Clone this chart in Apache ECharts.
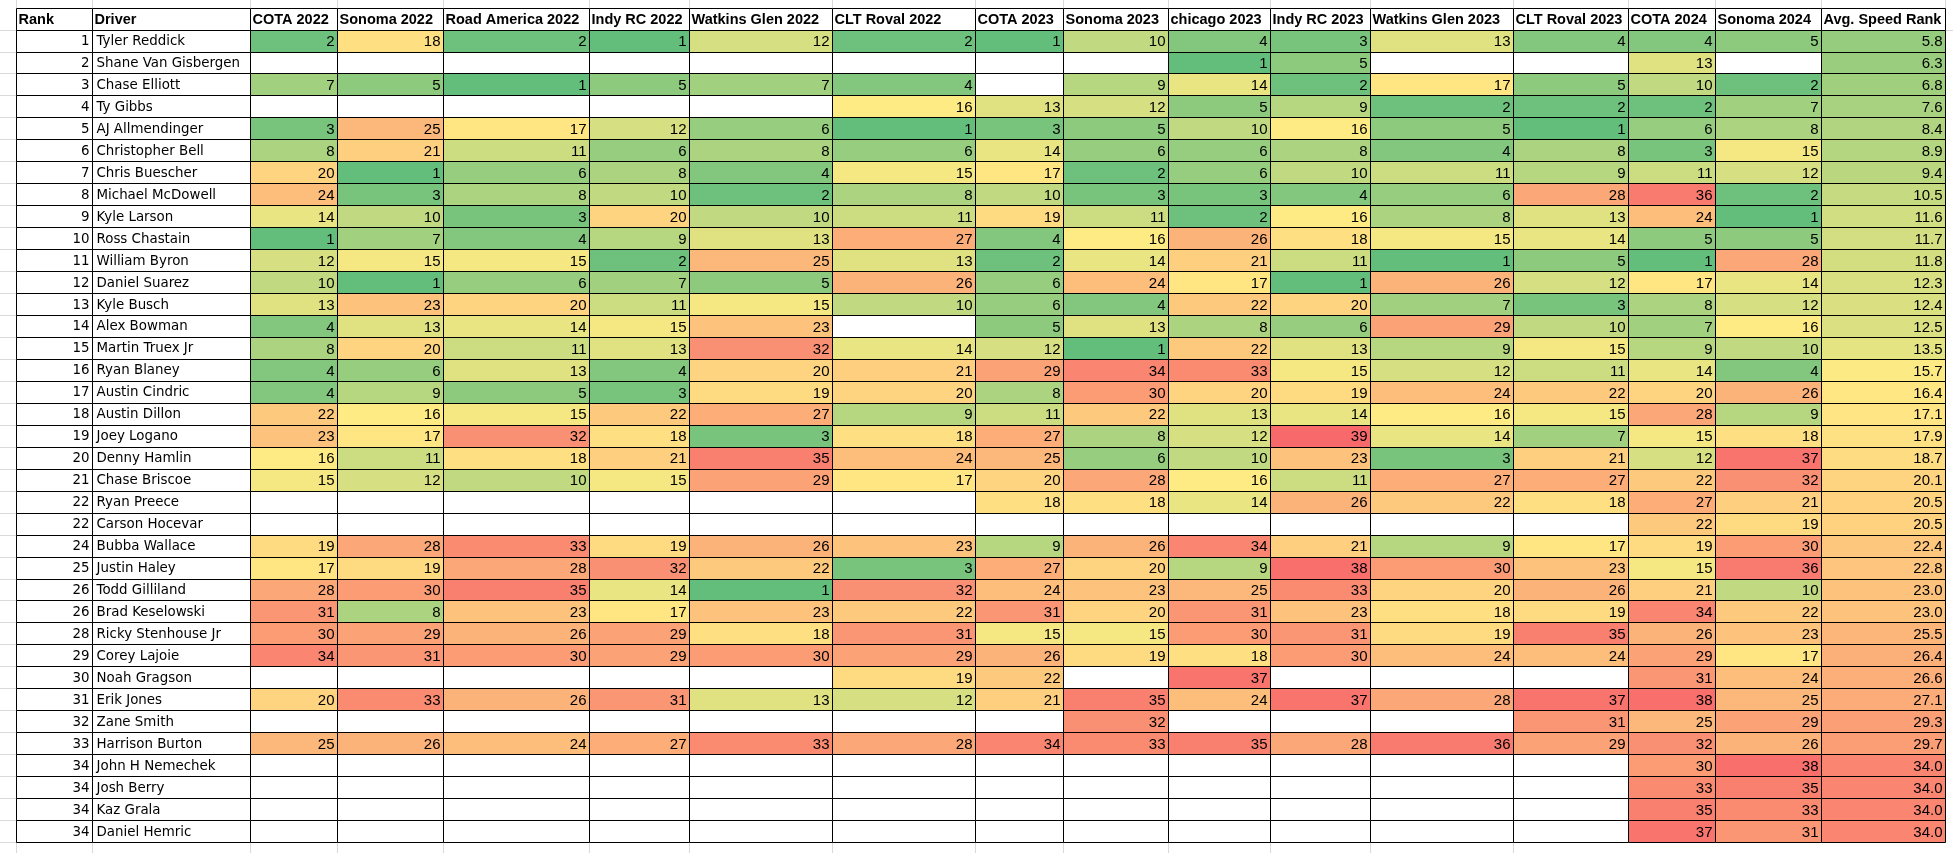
<!DOCTYPE html>
<html><head><meta charset="utf-8">
<script src="https://cdn.jsdelivr.net/npm/echarts@6/dist/echarts.min.js"></script>
<style>html,body{margin:0;padding:0;background:#fff}#c{width:1953px;height:853px}</style>
</head><body><div id="c"></div>
<script>
// ---------- DATA ----------
const headers = ['Rank','Driver','COTA 2022','Sonoma 2022','Road America 2022','Indy RC 2022','Watkins Glen 2022','CLT Roval 2022','COTA 2023','Sonoma 2023','chicago 2023','Indy RC 2023','Watkins Glen 2023','CLT Roval 2023','COTA 2024','Sonoma 2024','Avg. Speed Rank'];
const ranks = [1,2,3,4,5,6,7,8,9,10,11,12,13,14,15,16,17,18,19,20,21,22,22,24,25,26,26,28,29,30,31,32,33,34,34,34,34];
const drivers = ['Tyler Reddick','Shane Van Gisbergen','Chase Elliott','Ty Gibbs','AJ Allmendinger','Christopher Bell','Chris Buescher','Michael McDowell','Kyle Larson','Ross Chastain','William Byron','Daniel Suarez','Kyle Busch','Alex Bowman','Martin Truex Jr','Ryan Blaney','Austin Cindric','Austin Dillon','Joey Logano','Denny Hamlin','Chase Briscoe','Ryan Preece','Carson Hocevar','Bubba Wallace','Justin Haley','Todd Gilliland','Brad Keselowski','Ricky Stenhouse Jr','Corey Lajoie','Noah Gragson','Erik Jones','Zane Smith','Harrison Burton','John H Nemechek','Josh Berry','Kaz Grala','Daniel Hemric'];
const _ = null;
const cota2022        = [2,_,7,_,3,8,20,24,14,1,12,10,13,4,8,4,4,22,23,16,15,_,_,19,17,28,31,30,34,_,20,_,25,_,_,_,_];
const sonoma2022      = [18,_,5,_,25,21,1,3,10,7,15,1,23,13,20,6,9,16,17,11,12,_,_,28,19,30,8,29,31,_,33,_,26,_,_,_,_];
const roadAmerica2022 = [2,_,1,_,17,11,6,8,3,4,15,6,20,14,11,13,5,15,32,18,10,_,_,33,28,35,23,26,30,_,26,_,24,_,_,_,_];
const indyRC2022      = [1,_,5,_,12,6,8,10,20,9,2,7,11,15,13,4,3,22,18,21,15,_,_,19,32,14,17,29,29,_,31,_,27,_,_,_,_];
const watkins2022     = [12,_,7,_,6,8,4,2,10,13,25,5,15,23,32,20,19,27,3,35,29,_,_,26,22,1,23,18,30,_,13,_,33,_,_,_,_];
const cltRoval2022    = [2,_,4,16,1,6,15,8,11,27,13,26,10,_,14,21,20,9,18,24,17,_,_,23,3,32,22,31,29,19,12,_,28,_,_,_,_];
const cota2023        = [1,_,_,13,3,14,17,10,19,4,2,6,6,5,12,29,8,11,27,25,20,18,_,9,27,24,31,15,26,22,21,_,34,_,_,_,_];
const sonoma2023      = [10,_,9,12,5,6,2,3,11,16,14,24,4,13,1,34,30,22,8,6,28,18,_,26,20,23,20,15,19,_,35,32,33,_,_,_,_];
const chicago2023     = [4,1,14,5,10,6,6,3,2,26,21,17,22,8,22,33,20,13,12,10,16,14,_,34,9,25,31,30,18,37,24,_,35,_,_,_,_];
const indyRC2023      = [3,5,2,9,16,8,10,4,16,18,11,1,20,6,13,15,19,14,39,23,11,26,_,21,38,33,23,31,30,_,37,_,28,_,_,_,_];
const watkins2023     = [13,_,17,2,5,4,11,6,8,15,1,26,7,29,9,12,24,16,14,3,27,22,_,9,30,20,18,19,24,_,28,_,36,_,_,_,_];
const cltRoval2023    = [4,_,5,2,1,8,9,28,13,14,5,12,3,10,15,11,22,15,7,21,27,18,_,17,23,26,19,35,24,_,37,31,29,_,_,_,_];
const cota2024        = [4,13,10,2,6,3,11,36,24,5,1,17,8,7,9,14,20,28,15,12,22,27,22,19,15,21,34,26,29,31,38,25,32,30,33,35,37];
const sonoma2024      = [5,_,2,7,8,15,12,2,1,5,28,14,12,16,10,4,26,9,18,37,32,21,19,30,36,10,22,23,17,24,25,29,26,38,35,33,31];
const avgSpeedRank    = [5.8,6.3,6.8,7.6,8.4,8.9,9.4,10.5,11.6,11.7,11.8,12.3,12.4,12.5,13.5,15.7,16.4,17.1,17.9,18.7,20.1,20.5,20.5,22.4,22.8,23.0,23.0,25.5,26.4,26.6,27.1,29.3,29.7,34.0,34.0,34.0,34.0];
const valueColumns = [cota2022,sonoma2022,roadAmerica2022,indyRC2022,watkins2022,cltRoval2022,cota2023,sonoma2023,chicago2023,indyRC2023,watkins2023,cltRoval2023,cota2024,sonoma2024,avgSpeedRank];

// ---------- LAYOUT ----------
const colWidths = [76.1,158.3,86.5,106.2,145.8,100.8,143,143,87.3,105.8,101.3,100.7,143.1,114.6,87.4,105.8,123.5];
const edgesX = [0]; colWidths.forEach(w => edgesX.push(edgesX[edgesX.length-1] + w));
const totalW = edgesX[edgesX.length-1];
const gridLeft = 15.6, gridTop = 7.6, gridH = 834.4;
const NUM_FONT = '15px "Liberation Sans", Arial, sans-serif';
const HEAD_FONT = 'bold 14.5px "Liberation Sans", Arial, sans-serif';
const NAME_FONT = '13.4px "DejaVu Sans", Verdana, sans-serif';
const SHEET_GRID = '#d9d9d9';

// ---------- COLOUR SCALE (Excel green-yellow-red, midpoint = 50th percentile) ----------
const allVals = [];
valueColumns.forEach(c => c.forEach(v => { if (v !== null) allVals.push(v); }));
const sorted = allVals.slice().sort((a,b)=>a-b);
const minV = sorted[0], maxV = sorted[sorted.length-1];
const pr = (sorted.length-1)*0.5, lo = Math.floor(pr);
const midV = sorted[lo] + (sorted[Math.min(lo+1, sorted.length-1)] - sorted[lo]) * (pr-lo);
const G=[99,190,123], Y=[255,235,132], R=[248,105,107];
function mix(a,b,t){return 'rgb('+a.map((x,i)=>Math.round(x+(b[i]-x)*t)).join(',')+')';}
const stops = [];
const NS = 301;
for (let k=0;k<NS;k++){
  const v = minV + (maxV-minV)*k/(NS-1);
  stops.push(v <= midV ? mix(G,Y,(v-minV)/(midV-minV)) : mix(Y,R,(v-midV)/(maxV-midV)));
}

// ---------- BUILD SERIES DATA ----------
const numData = [];
valueColumns.forEach((col, ci) => col.forEach((v, ri) => { if (v !== null) numData.push([ci+2, ri+1, v]); }));
const textData = [], textInfo = [];
headers.forEach((h, ci) => { textData.push([ci, 0]); textInfo.push({text:h, kind:'head'}); });
drivers.forEach((d, ri) => {
  textData.push([0, ri+1]); textInfo.push({text:String(ranks[ri]), kind:'rank'});
  textData.push([1, ri+1]); textInfo.push({text:d, kind:'name'});
});
valueColumns.forEach((col, ci) => col.forEach((v, ri) => { if (v === null) { textData.push([ci+2, ri+1]); textInfo.push({text:'', kind:'blank'}); } }));
const nRows = drivers.length + 1;

function cellBox(api, col, row){
  const p0 = api.coord([edgesX[col], row]);
  const p1 = api.coord([edgesX[col+1], row]);
  const h = api.size([0,1])[1];
  return {
    x0: Math.round(p0[0]) + 0.5, x1: Math.round(p1[0]) + 0.5,
    y0: Math.round(p0[1]-h/2) + 0.5, y1: Math.round(p0[1]+h/2) + 0.5,
    cy: p0[1]
  };
}

const chart = echarts.init(document.getElementById('c'));
chart.setOption({
  animation: false,
  backgroundColor: '#fff',
  grid: { left: gridLeft, top: gridTop, width: totalW, height: gridH },
  xAxis: { type:'value', min:0, max:totalW, show:false },
  yAxis: { type:'category', inverse:true, data: ['header'].concat(drivers), show:false },
  visualMap: { type:'continuous', show:false, seriesIndex:0, dimension:2, min:minV, max:maxV, inRange:{ color: stops } },
  series: [
    {
      type:'custom', data:numData, clip:false,
      encode:{ x:0, y:1 },
      renderItem(params, api){
        const col = api.value(0), row = api.value(1), v = api.value(2);
        const b = cellBox(api, col, row);
        const txt = col === headers.length-1 ? v.toFixed(1) : String(v);
        return { type:'group', children:[
          { type:'rect', shape:{x:b.x0, y:b.y0, width:b.x1-b.x0, height:b.y1-b.y0}, style:{ fill: api.visual('color'), stroke:'#000', lineWidth:1 } },
          { type:'text', style:{ text:txt, x:b.x1-3, y:b.cy+1.5, align:'right', verticalAlign:'middle', font:NUM_FONT, fill:'#000' } }
        ]};
      }
    },
    {
      type:'custom', data:textData, clip:false,
      encode:{ x:0, y:1 },
      renderItem(params, api){
        const col = api.value(0), row = api.value(1);
        const info = textInfo[params.dataIndex];
        const b = cellBox(api, col, row);
        const ch = [];
        if (row === 0) {
          ch.push({ type:'line', shape:{x1:b.x0, y1:0, x2:b.x0, y2:b.y0}, style:{stroke:SHEET_GRID, lineWidth:1} });
          if (col === headers.length-1) ch.push({ type:'line', shape:{x1:b.x1, y1:0, x2:b.x1, y2:b.y0}, style:{stroke:SHEET_GRID, lineWidth:1} });
        }
        if (row === nRows-1) {
          ch.push({ type:'line', shape:{x1:b.x0, y1:b.y1, x2:b.x0, y2:853}, style:{stroke:SHEET_GRID, lineWidth:1} });
        }
        if (col === 0) {
          ch.push({ type:'line', shape:{x1:0, y1:b.y1, x2:b.x0, y2:b.y1}, style:{stroke:SHEET_GRID, lineWidth:1} });
        }
        if (col === headers.length-1 && row === 0) {
          ch.push({ type:'line', shape:{x1:b.x1, y1:b.y1, x2:1953, y2:b.y1}, style:{stroke:SHEET_GRID, lineWidth:1} });
        }
        ch.push({ type:'rect', shape:{x:b.x0, y:b.y0, width:b.x1-b.x0, height:b.y1-b.y0}, style:{ fill:'#fff', stroke:'#000', lineWidth:1 } });
        if (info.kind === 'head') {
          ch.push({ type:'text', style:{ text:info.text, x:b.x0+2, y:b.cy+1.5, align:'left', verticalAlign:'middle', font:HEAD_FONT, fill:'#000' } });
        } else if (info.kind === 'rank') {
          ch.push({ type:'text', style:{ text:info.text, x:b.x1-3, y:b.cy+1, align:'right', verticalAlign:'middle', font:NAME_FONT, fill:'#000' } });
        } else if (info.kind === 'name') {
          ch.push({ type:'text', style:{ text:info.text, x:b.x0+4, y:b.cy+1, align:'left', verticalAlign:'middle', font:NAME_FONT, fill:'#000' } });
        }
        return { type:'group', children:ch };
      }
    }
  ]
});
</script></body></html>
